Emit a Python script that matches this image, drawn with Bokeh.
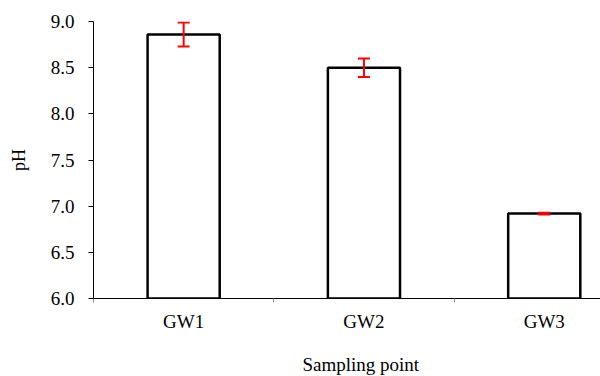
from bokeh.plotting import figure
from bokeh.models import (ColumnDataSource, Range1d, FixedTicker, Whisker, TeeHead,
                          PrintfTickFormatter, Title)
from bokeh.embed import file_html
from bokeh.resources import INLINE

# ---- data ----
categories = ["GW1", "GW2", "GW3"]
ph_mean = [8.86, 8.50, 6.92]
ph_err = [0.13, 0.10, 0.01]
y_ticks = [6.0, 6.5, 7.0, 7.5, 8.0, 8.5, 9.0]
x_label = "Sampling point"
y_label = "pH"

FONT = "Liberation Serif"

xpos = [i + 0.5 for i in range(len(categories))]
source = ColumnDataSource(data=dict(
    x=xpos,
    top=ph_mean,
    upper=[m + e for m, e in zip(ph_mean, ph_err)],
    lower=[m - e for m, e in zip(ph_mean, ph_err)],
))

p = figure(width=600, height=376, output_backend="svg", toolbar_location=None,
           x_range=Range1d(0, 2.812), y_range=Range1d(6.0, 9.0),
           min_border_left=93, min_border_top=21, min_border_bottom=78,
           min_border_right=0)
p.outline_line_color = None
p.xgrid.grid_line_color = None
p.ygrid.grid_line_color = None
p.background_fill_color = "white"
p.border_fill_color = "white"

p.vbar(x="x", top="top", bottom=6.0, width=0.4, source=source,
       fill_color="white", line_color="black", line_width=2.5)

w = Whisker(base="x", upper="upper", lower="lower", source=source,
            line_color="red", line_width=2,
            upper_head=TeeHead(size=12, line_color="red", line_width=2),
            lower_head=TeeHead(size=12, line_color="red", line_width=2),
            level="overlay")
p.add_layout(w)

# x axis
xa = p.xaxis[0]
xa.ticker = FixedTicker(ticks=xpos, minor_ticks=[0, 1, 2, 3])
xa.major_label_overrides = {x: c for x, c in zip(xpos, categories)}
xa.major_tick_line_color = None
xa.major_tick_out = 0
xa.major_tick_in = 0
xa.minor_tick_out = 4
xa.minor_tick_in = 0
xa.minor_tick_line_color = "#888888"
xa.axis_line_color = "black"
xa.axis_line_width = 1
xa.major_label_text_font = FONT
xa.major_label_text_font_size = "19px"
xa.major_label_text_font_style = "normal"
xa.major_label_text_color = "black"
xa.major_label_standoff = 8

# y axis
ya = p.yaxis[0]
ya.ticker = FixedTicker(ticks=y_ticks)
ya.formatter = PrintfTickFormatter(format="%.1f")
ya.major_tick_out = 5
ya.major_tick_in = 0
ya.minor_tick_line_color = None
ya.major_tick_line_color = "black"
ya.axis_line_color = "black"
ya.axis_line_width = 1
ya.major_label_text_font = FONT
ya.major_label_text_font_size = "19px"
ya.major_label_text_font_style = "normal"
ya.major_label_text_color = "black"
ya.major_label_standoff = 14
ya.axis_label = y_label
ya.axis_label_text_font = FONT
ya.axis_label_text_font_size = "18px"
ya.axis_label_text_font_style = "normal"
ya.axis_label_text_color = "black"
ya.axis_label_standoff = 19

xt = Title(text="\n" + x_label, align="left", offset=209, standoff=0,
           vertical_align="bottom", text_line_height=0.85,
           text_font=FONT, text_font_size="19px", text_font_style="normal",
           text_color="black")
p.add_layout(xt, "below")

open("out.html", "w").write(file_html(p, INLINE))
